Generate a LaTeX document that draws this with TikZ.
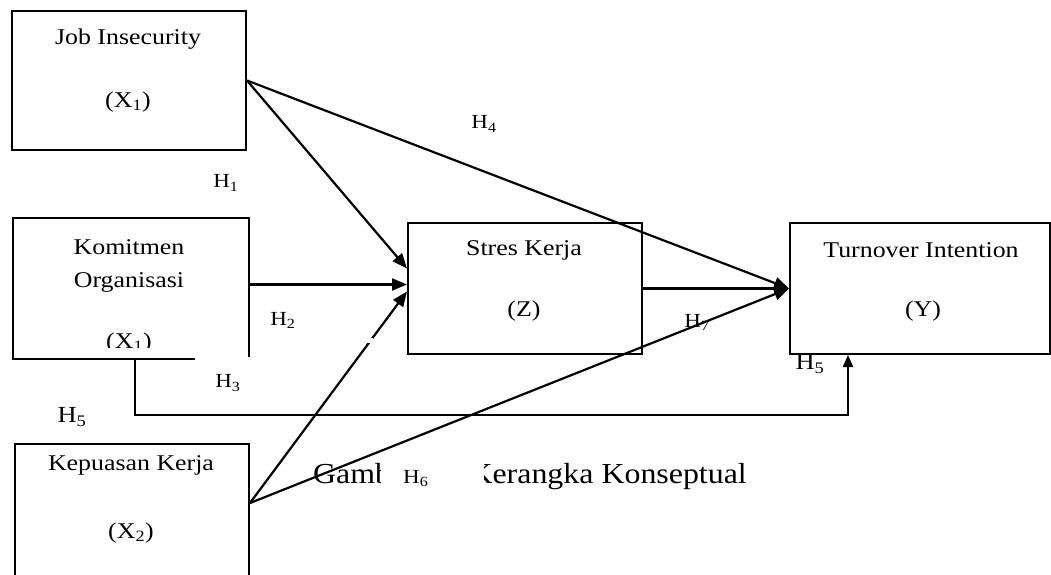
\documentclass[tikz,border=0pt]{standalone}
\usepackage{fontspec}
\setmainfont{Liberation Serif}
\usetikzlibrary{arrows.meta,calc}
\newcommand{\sx}[1]{\scalebox{1.15}[1]{#1}}
\newcommand{\scap}[1]{\scalebox{1.1}[1]{#1}}
\begin{document}
\begin{tikzpicture}[x=1pt,y=-1pt,
  box/.style={draw, line width=2pt, rectangle, anchor=north west, inner sep=0pt},
  edge/.style={line width=2pt},
  txt/.style={inner sep=0pt, font=\fontsize{22.5}{24}\selectfont},
  hlab/.style={inner sep=0pt, font=\fontsize{20}{22}\selectfont},
  hbig/.style={inner sep=0pt, font=\fontsize{23}{25}\selectfont},
  captxt/.style={inner sep=0pt, font=\fontsize{29}{31}\selectfont},
  conn/.style={line width=2.2pt, -{Triangle[length=15pt,width=12pt]}},
  connsmall/.style={line width=2.2pt, -{Triangle[length=12pt,width=10pt]}},
]
\useasboundingbox[fill=white] (0,0) rectangle (1051,574);

% boxes
\node[box, minimum width=234pt, minimum height=139pt] (job) at (11,10) {};
\node[box, draw=none, minimum width=234pt, minimum height=139pt] (kom) at (13,218) {};
\draw[edge] ($(kom.south west)+(182,0)$) -- (kom.south west) -- (kom.north west) -- (kom.north east) -- ($(kom.south east)+(0,-2)$);
\node[box, minimum width=234pt, minimum height=131pt] (stres) at (407,222) {};
\node[box, minimum width=260pt, minimum height=131pt] (turn) at (789,222) {};
\node[box, minimum width=234pt, minimum height=200pt] (kep) at (14,443) {};

% box texts
\node[txt] (jobt) at (128,39) {\sx{Job Insecurity}};
\node[txt] (jobx) at (128,102) {\sx{(X\textsubscript{1})}};
\node[txt] (komt) at (129,247) {\sx{Komitmen}};
\node[txt] (komo) at (129,282) {\sx{Organisasi}};
\begin{scope}
\clip (0,0) rectangle (1051,347);
\node[txt] (komx) at (129,343) {\sx{(X\textsubscript{1})}};
\end{scope}
\node[txt] (strest) at (524,250) {\sx{Stres Kerja}};
\node[txt] (stresz) at (524,311) {\sx{(Z)}};
\node[txt] (turnt) at (921,250) {\sx{Turnover Intention}};
\node[txt] (turny) at (923,311) {\sx{(Y)}};
\node[txt] (kept) at (131,465) {\sx{Kepuasan Kerja}};
\node[txt] (kepx) at (131,533) {\sx{(X\textsubscript{2})}};

% caption (partly hidden by the H6 label)
\node[captxt, anchor=base west] (cap1) at (313,483) {\scap{Gamb}};
\node[captxt, anchor=base east] (cap2) at (747,483) {\scap{Kerangka Konseptual}};
\fill[white] (381,457) rectangle (484,497);
\node[hlab, anchor=base west] (h6) at (403,483) {\sx{H\textsubscript{6}}};

% connectors
\draw[conn] (job.east) -- ($(stres.west)+(0,-20)$);
\draw[conn] (job.east) -- (turn.west);
\draw[conn] ($(kom.east)+(0,-4)$) -- ($(stres.west)+(0,-4)$);
\draw[conn] ($(kep.north east)+(0,60)$) -- ($(stres.west)+(0,3)$);
\draw[conn] ($(kep.north east)+(0,60)$) -- (turn.west);
\draw[conn] (stres.east) -- (turn.west);
\draw[connsmall] ($(kom.south west)+(122,0)$) -- ++(0,56) -| ($(turn.south west)+(59,0)$);
\fill[white] (360,338) rectangle (373,343);

% hypothesis labels
\node[hlab] (h1) at (226,183) {\sx{H\textsubscript{1}}};
\node[hlab] (h2) at (283,320) {\sx{H\textsubscript{2}}};
\node[hlab] (h3) at (228,383) {\sx{H\textsubscript{3}}};
\node[hlab] (h4) at (484,124) {\sx{H\textsubscript{4}}};
\node[hlab] (h7) at (697,322) {\sx{H\textsubscript{7}}};
\node[hbig] (h5a) at (72,417) {\sx{H\textsubscript{5}}};
\node[hbig] (h5b) at (810,364) {\sx{H\textsubscript{5}}};
\end{tikzpicture}
\end{document}
